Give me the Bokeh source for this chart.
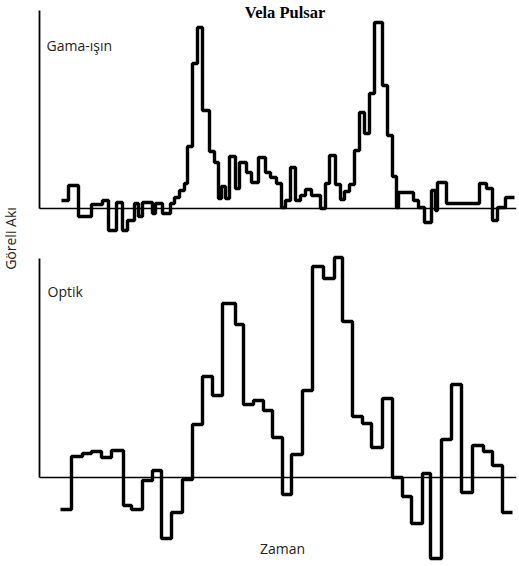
import math
from bokeh.plotting import figure
from bokeh.models import Range1d, LinearAxis, Label, FixedTicker
from bokeh.embed import file_html
from bokeh.resources import INLINE

# Gamma-ray light curve: bin start times (last entry = end of last bin) and relative flux
gamma_time = [22, 29, 39, 52, 63, 69, 77, 83, 88, 95,
              99, 103, 113, 116, 123, 131, 135, 140, 145, 148,
              153, 158, 163, 170, 175, 179, 182, 186, 190, 196,
              200, 207, 212, 219, 226, 231, 237, 242, 246, 251,
              256, 261, 266, 272, 281, 286, 290, 296, 301, 305,
              310, 315, 320, 325, 330, 335, 343, 348, 353, 357,
              359, 374, 379, 385, 392, 396, 398, 407, 440, 447,
              453, 458, 466, 475]
gamma_flux = [8, 23, -8, 4, 8, -22, 6, -22, -12, 5,
              -8, 6, -5, 5, -5, 5, 11, 18, 25, 62,
              145, 181, 98, 57, 46, 10, 22, 10, 52, 20,
              46, 36, 26, 51, 36, 31, 25, 1, 8, 41,
              8, 13, 19, 13, 0, 25, 53, 24, 9, 17,
              24, 58, 96, 75, 115, 186, 123, 73, 32, 1,
              16, 8, 1, -14, 18, -2, 26, 5, 25, 20,
              -12, 1, 11]

# Optical light curve
optik_time = [21, 32, 43, 52, 62, 72, 84, 92, 103, 113,
              122, 132, 143, 153, 163, 173, 183, 196, 204, 214,
              224, 233, 243, 252, 263, 273, 284, 295, 303, 313,
              323, 332, 343, 353, 363, 372, 383, 391, 402, 412,
              422, 433, 444, 453, 463, 473]
optik_flux = [-32, 21, 24, 26, 20, 27, -28, -32, -3, 7,
              -61, -35, -2, 53, 101, 82, 174, 153, 73, 77,
              67, 40, -17, 23, 87, 211, 199, 220, 156, 61,
              54, 30, 79, 0, -19, -46, 4, -81, 38, 93,
              -15, 32, 26, 12, -35]

title_text = "Vela Pulsar"
gamma_label = "Gama-ışın"
optik_label = "Optik"
y_label = "Göreli Akı"
x_label = "Zaman"

p = figure(width=519, height=566, output_backend="svg", toolbar_location=None,
           x_axis_location=None, y_axis_location=None,
           x_range=Range1d(-39, 477), y_range=Range1d(-358, 208),
           min_border_left=0, min_border_right=3, min_border_top=0, min_border_bottom=0,
           outline_line_color=None, background_fill_color="white", border_fill_color="white")
p.extra_y_ranges = {"opt": Range1d(-89, 477)}
p.grid.visible = False

AXIS_STYLE = dict(ticker=FixedTicker(ticks=[]), major_tick_out=0, major_tick_in=0,
                  minor_tick_out=0, minor_tick_in=0, major_label_text_font_size="0px",
                  major_label_standoff=0, axis_line_color="black", fixed_location=0)

# vertical axes (flux), drawn at time 0
p.add_layout(LinearAxis(bounds=(0, 198), axis_line_width=1.8, **AXIS_STYLE), "left")
p.add_layout(LinearAxis(y_range_name="opt", bounds=(0, 219), axis_line_width=1.8,
                        **AXIS_STYLE), "left")
# horizontal zero lines (time axes), drawn at flux 0
p.add_layout(LinearAxis(bounds=(0, 477), axis_line_width=1.6, **AXIS_STYLE), "below")
p.add_layout(LinearAxis(y_range_name="opt", bounds=(0, 477), axis_line_width=1.6,
                        **AXIS_STYLE), "below")

p.step(x=gamma_time, y=gamma_flux + [gamma_flux[-1]], mode="after",
       line_color="black", line_width=3.4)
p.step(x=optik_time, y=optik_flux + [optik_flux[-1]], mode="after",
       line_color="black", line_width=3.4, y_range_name="opt")

sans = "Open Sans"
p.add_layout(Label(x=245.5, y=187, text=title_text, text_font="Liberation Serif",
                   text_font_style="bold", text_font_size="16.5px", text_align="center",
                   text_color="black"))
p.add_layout(Label(x=7, y=154, text=gamma_label, text_font=sans, text_font_size="14px",
                   text_color="#222222"))
p.add_layout(Label(x=8, y=-92, text=optik_label, text_font=sans, text_font_size="14px",
                   text_color="#222222"))
p.add_layout(Label(x=243, y=-349, text=x_label, text_font=sans, text_font_size="14px",
                   text_align="center", text_color="#222222"))
p.add_layout(Label(x=-29, y=-30, text=y_label, text_font=sans, text_font_size="14px",
                   text_align="center", text_baseline="middle", angle=math.pi / 2,
                   text_color="#222222"))

open("out.html", "w").write(file_html(p, INLINE))
